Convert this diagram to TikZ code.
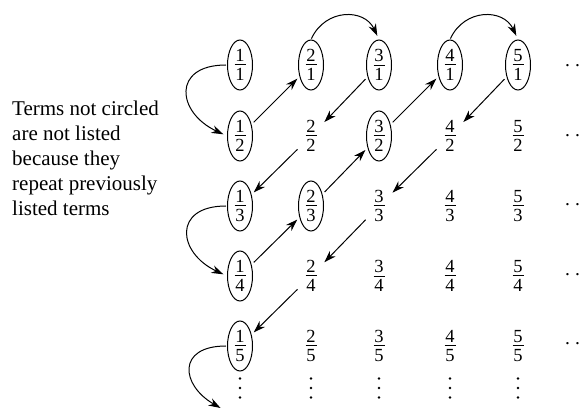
\documentclass[tikz,border=0pt]{standalone}
\usepackage{fontspec}
\setmainfont{Liberation Serif}
\usetikzlibrary{shapes.geometric,arrows.meta}
\newcommand{\fr}[2]{\vbox{\hbox to 11pt{\hss#1\hss}\kern2.6pt\hrule height0.9pt\kern2.9pt\hbox to 11pt{\hss#2\hss}}}
\begin{document}
\begin{tikzpicture}[x=1pt,y=1pt,
  fr/.style={ellipse,inner sep=0pt,minimum width=25pt,minimum height=50pt,font=\fontsize{18.5}{21}\selectfont},
  circ/.style={fr,draw,line width=1pt},
  hd/.style={anchor=west,inner sep=0pt,font=\fontsize{19.5}{22}\selectfont},
  arr/.style={-{Stealth[length=12pt,width=8pt]},line width=1pt,shorten >=3pt,shorten <=3pt},
  loop/.style={-{Stealth[length=12pt,width=8pt]},line width=1pt,shorten >=4pt,shorten <=1pt},
  note/.style={anchor=north west,inner sep=0pt,align=left,font=\fontsize{21}{25}\selectfont}]
\useasboundingbox (0,0) rectangle (584,-411);
% row 1
\node[circ] (f11) at (240,-65) {\fr{1}{1}};
\node[circ] (f21) at (311,-65) {\fr{2}{1}};
\node[circ] (f31) at (379,-65) {\fr{3}{1}};
\node[circ] (f41) at (450,-65) {\fr{4}{1}};
\node[circ] (f51) at (518,-65) {\fr{5}{1}};
% row 2
\node[circ] (f12) at (240,-136) {\fr{1}{2}};
\node[fr]   (f22) at (311,-136) {\fr{2}{2}};
\node[circ] (f32) at (379,-136) {\fr{3}{2}};
\node[fr]   (f42) at (450,-136) {\fr{4}{2}};
\node[fr]   (f52) at (518,-136) {\fr{5}{2}};
% row 3
\node[circ] (f13) at (240,-206) {\fr{1}{3}};
\node[circ] (f23) at (311,-206) {\fr{2}{3}};
\node[fr]   (f33) at (379,-206) {\fr{3}{3}};
\node[fr]   (f43) at (450,-206) {\fr{4}{3}};
\node[fr]   (f53) at (518,-206) {\fr{5}{3}};
% row 4
\node[circ] (f14) at (240,-276) {\fr{1}{4}};
\node[fr]   (f24) at (311,-276) {\fr{2}{4}};
\node[fr]   (f34) at (379,-276) {\fr{3}{4}};
\node[fr]   (f44) at (450,-276) {\fr{4}{4}};
\node[fr]   (f54) at (518,-276) {\fr{5}{4}};
% row 5
\node[circ] (f15) at (240,-346) {\fr{1}{5}};
\node[fr]   (f25) at (311,-346) {\fr{2}{5}};
\node[fr]   (f35) at (379,-346) {\fr{3}{5}};
\node[fr]   (f45) at (450,-346) {\fr{4}{5}};
\node[fr]   (f55) at (518,-346) {\fr{5}{5}};
% vertical dots (continuation of each column)
\foreach \x in {240,311,379,450,518}
  \foreach \y in {-378.5,-388,-397.5}
    \fill (\x,\y) circle (1.3pt);
% horizontal dots
\node[hd] (h1) at (565,-66) {.\kern5pt.};
\node[hd] (h2) at (565,-136) {.\kern5pt.};
\node[hd] (h3) at (565,-205) {.\kern5pt.};
\node[hd] (h4) at (565,-275) {.\kern5pt.};
\node[hd] (h5) at (565,-344) {.\kern5pt.};
% note
\node[note] (note) at (12,-100.5) {Terms not circled\\are not listed\\because they\\repeat previously\\listed terms};
% arrows
\coordinate (f16) at (224,-410);
\draw[loop] (f11.west) to[out=180,in=155,looseness=2] (f12.west);
\draw[arr] (f12) -- (f21);
\draw[loop] (f21.north) to[out=65,in=115,looseness=1.3] (f31.north);
\draw[arr] (f31) -- (f22);
\draw[arr] (f22) -- (f13);
\draw[loop] (f13.west) to[out=180,in=155,looseness=2] (f14.west);
\draw[arr] (f14) -- (f23);
\draw[arr] (f23) -- (f32);
\draw[arr] (f32) -- (f41);
\draw[loop] (f41.north) to[out=65,in=115,looseness=1.3] (f51.north);
\draw[arr] (f51) -- (f42);
\draw[arr] (f42) -- (f33);
\draw[arr] (f33) -- (f24);
\draw[arr] (f24) -- (f15);
\draw[loop] (f15.west) to[out=180,in=150,looseness=2] (f16);
\end{tikzpicture}
\end{document}
